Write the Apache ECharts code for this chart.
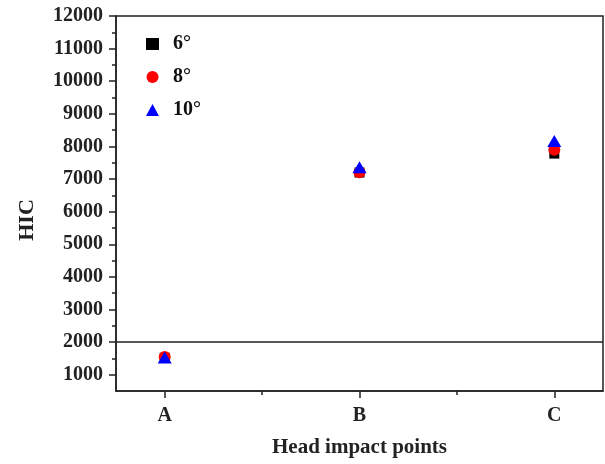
<!DOCTYPE html>
<html>
<head>
<meta charset="utf-8">
<script src="https://cdn.jsdelivr.net/npm/echarts@6/dist/echarts.min.js"></script>
<style>html,body{margin:0;padding:0;background:#fff;}#c{width:605px;height:464px;}</style>
</head>
<body>
<div id="c"></div>
<script>
const categories = ['A', 'B', 'C'];
const seriesNames = ['6°', '8°', '10°'];
const hic6 = [1520, 7200, 7780];
const hic8 = [1540, 7210, 7900];
const hic10 = [1530, 7360, 8170];
const yTicks = [1000, 2000, 3000, 4000, 5000, 6000, 7000, 8000, 9000, 10000, 11000, 12000];
const yMinorTicks = [1500, 2500, 3500, 4500, 5500, 6500, 7500, 8500, 9500, 10500, 11500];
const threshold = 2000;

const FONT = 'Liberation Serif';
const pos = categories.map((c, i) => i + 1);
const toData = arr => arr.map((v, i) => [pos[i], v]);

const chart = echarts.init(document.getElementById('c'));
const axisLineStyle = { color: '#222', width: 1.5 };
chart.setOption({
  animation: false,
  backgroundColor: '#fff',
  grid: { left: 116, right: 2, top: 16, bottom: 73, show: true, borderColor: '#222', borderWidth: 1.5, backgroundColor: 'transparent' },
  legend: {
    orient: 'vertical', left: 141, top: 29,
    itemWidth: 13, itemHeight: 12, itemGap: 13,
    textStyle: { fontFamily: FONT, fontWeight: 'bold', fontSize: 20, color: '#111', lineHeight: 18, padding: [0, 0, 0, 9] },
    data: seriesNames
  },
  xAxis: [{
    type: 'value', min: 0.75, max: 3.25,
    axisLine: { lineStyle: axisLineStyle },
    axisTick: { show: true, customValues: pos, length: 7, lineStyle: axisLineStyle },
    axisLabel: { customValues: pos, formatter: v => categories[Math.round(v) - 1] || '', fontFamily: FONT, fontWeight: 'bold', fontSize: 20, color: '#222', margin: 15 },
    splitLine: { show: false },
    name: 'Head impact points', nameLocation: 'middle', nameGap: 46,
    nameTextStyle: { fontFamily: FONT, fontWeight: 'bold', fontSize: 21, color: '#222' }
  }, {
    type: 'value', min: 0.75, max: 3.25, position: 'bottom',
    axisLine: { show: false },
    axisTick: { show: true, customValues: [1.5, 2.5], length: 4, lineStyle: axisLineStyle },
    axisLabel: { show: false }, splitLine: { show: false }
  }],
  yAxis: [{
    type: 'value', min: 500, max: 12000,
    axisLine: { show: true, lineStyle: axisLineStyle },
    axisTick: { show: true, customValues: yTicks, length: 7, lineStyle: axisLineStyle },
    axisLabel: { customValues: yTicks, formatter: v => String(v), fontFamily: FONT, fontWeight: 'bold', fontSize: 20, color: '#222', margin: 13 },
    splitLine: { show: false }
  }, {
    type: 'value', min: 500, max: 12000, position: 'left',
    axisLine: { show: false },
    axisTick: { show: true, customValues: yMinorTicks, length: 4, lineStyle: axisLineStyle },
    axisLabel: { show: false }, splitLine: { show: false }
  }],
  graphic: [{
    type: 'text', x: 27, y: 220, rotation: Math.PI / 2,
    style: { text: 'HIC', fontFamily: FONT, fontWeight: 'bold', fontSize: 22, fill: '#222', align: 'center', verticalAlign: 'middle' }
  }],
  series: [{
    name: seriesNames[0], type: 'scatter', symbol: 'rect', symbolSize: 10,
    itemStyle: { color: '#000', opacity: 1 }, data: toData(hic6),
    markLine: {
      silent: true, symbol: 'none', label: { show: false },
      lineStyle: { color: '#222', width: 1.5, type: 'solid' },
      data: [{ yAxis: threshold }]
    }
  }, {
    name: seriesNames[1], type: 'scatter', symbol: 'circle', symbolSize: 12,
    itemStyle: { color: '#ff0000', opacity: 1 }, data: toData(hic8)
  }, {
    name: seriesNames[2], type: 'scatter', symbol: 'triangle', symbolSize: [14, 12],
    itemStyle: { color: '#0000ff', opacity: 1 }, data: toData(hic10)
  }]
});
</script>
</body>
</html>
